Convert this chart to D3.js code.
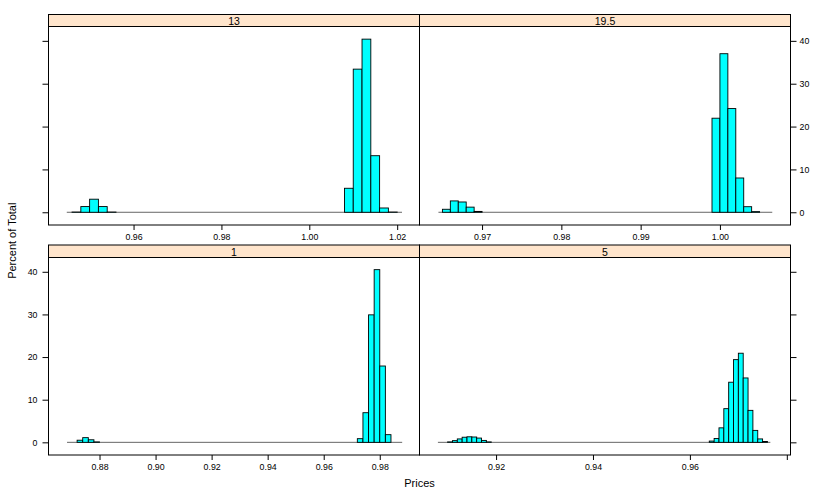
<!DOCTYPE html>
<html><head><meta charset="utf-8">
<script src="https://cdn.jsdelivr.net/npm/d3@7"></script>
<style>body{margin:0;background:#fff}svg{display:block}</style>
</head><body><svg id="c" width="830" height="498"></svg>
<script>
// ---------- data ----------
const yTicks = [0, 10, 20, 30, 40];
const ylim = [-2.97, 43.35];

// panel "13" (top-left)
const xlim13 = [0.94064, 1.02508];
const xTicks13 = [0.96, 0.98, 1.00, 1.02];
const binWidth13 = 0.002;
const binStart13 = [0.946, 0.948, 0.950, 0.952, 0.954, 1.008, 1.010, 1.012, 1.014, 1.016, 1.018];
const pct13 = [0.05, 1.33, 3.05, 1.33, 0.05, 5.6, 33.4, 40.4, 13.2, 1.0, 0.05];
const base13 = [0.9448, 1.0211];

// panel "19.5" (top-right)
const xlim195 = [0.96211, 1.0089];
const xTicks195 = [0.97, 0.98, 0.99, 1.00];
const binWidth195 = 0.001;
const binStart195 = [0.965, 0.966, 0.967, 0.968, 0.969, 0.999, 1.000, 1.001, 1.002, 1.003, 1.004];
const pct195 = [0.7, 2.65, 2.4, 1.2, 0.2, 21.95, 37.0, 24.2, 8.0, 1.3, 0.15];
const base195 = [0.9645, 1.0066];

// panel "1" (bottom-left)
const xlim1 = [0.86179, 0.99418];
const xTicks1 = [0.88, 0.90, 0.92, 0.94, 0.96, 0.98];
const binWidth1 = 0.002;
const binStart1 = [0.872, 0.874, 0.876, 0.878, 0.972, 0.974, 0.976, 0.978, 0.980, 0.982];
const pct1 = [0.5, 1.1, 0.6, 0.1, 0.86, 6.95, 29.9, 40.5, 17.9, 1.8];
const base1 = [0.8684, 0.988];

// panel "5" (bottom-right)
const xlim5 = [0.9042, 0.98076];
const xTicks5 = [0.92, 0.94, 0.96, 0.98];
const xTickLabels5 = ["0.92", "0.94", "0.96", ""];
const binWidth5 = 0.001;
const binStart5 = [0.910, 0.911, 0.912, 0.913, 0.914, 0.915, 0.916, 0.917, 0.918,
                   0.964, 0.965, 0.966, 0.967, 0.968, 0.969, 0.970, 0.971, 0.972, 0.973, 0.974, 0.975];
const pct5 = [0.1, 0.4, 0.8, 1.2, 1.3, 1.25, 1.0, 0.45, 0.1,
              0.3, 0.9, 3.4, 7.9, 14.1, 19.4, 20.9, 15.1, 7.5, 2.8, 0.8, 0.2];
const base5 = [0.908, 0.9766];

const xLabel = "Prices";
const yLabel = "Percent of Total";

// ---------- layout ----------
const FONT = "'Liberation Sans', Arial, Helvetica, sans-serif";
const colX = [48.5, 419.5, 790.5];
const rows = [
  {stripTop: 14.5, top: 26.5, bottom: 225},
  {stripTop: 245, top: 257.5, bottom: 455}
];

const panels = [
  {label: "13",   col: 0, row: 0, xlim: xlim13,  ticks: xTicks13,  tickLabels: xTicks13.map(d3.format(".2f")),  bw: binWidth13,  bins: binStart13,  pct: pct13,  base: base13,  yAxis: "left",  yLabels: false},
  {label: "19.5", col: 1, row: 0, xlim: xlim195, ticks: xTicks195, tickLabels: xTicks195.map(d3.format(".2f")), bw: binWidth195, bins: binStart195, pct: pct195, base: base195, yAxis: "right", yLabels: true},
  {label: "1",    col: 0, row: 1, xlim: xlim1,   ticks: xTicks1,   tickLabels: xTicks1.map(d3.format(".2f")),   bw: binWidth1,   bins: binStart1,   pct: pct1,   base: base1,   yAxis: "left",  yLabels: true},
  {label: "5",    col: 1, row: 1, xlim: xlim5,   ticks: xTicks5,   tickLabels: xTickLabels5, bw: binWidth5,   bins: binStart5,   pct: pct5,   base: base5,   yAxis: "right", yLabels: false}
];

const svg = d3.select("#c");

panels.forEach(p => {
  const x0 = colX[p.col], x1 = colX[p.col + 1];
  const r = rows[p.row];
  const xs = d3.scaleLinear().domain(p.xlim).range([x0, x1]);
  const ys = d3.scaleLinear().domain(ylim).range([r.bottom, r.top]);
  const g = svg.append("g");

  // clip
  const cid = "clip" + p.col + p.row;
  svg.append("clipPath").attr("id", cid).append("rect")
    .attr("x", x0).attr("y", r.top).attr("width", x1 - x0).attr("height", r.bottom - r.top);
  const plot = g.append("g").attr("clip-path", `url(#${cid})`);

  // baseline (zero-height bins)
  plot.append("line")
    .attr("x1", xs(p.base[0])).attr("x2", xs(p.base[1]))
    .attr("y1", ys(0)).attr("y2", ys(0))
    .attr("stroke", "#666").attr("stroke-width", 1);

  // bars
  const data = p.bins.map((b, i) => ({b, v: p.pct[i]}));
  plot.selectAll("rect.bar").data(data).enter().append("rect")
    .attr("class", "bar")
    .attr("x", d => xs(d.b))
    .attr("width", d => xs(d.b + p.bw) - xs(d.b))
    .attr("y", d => ys(d.v))
    .attr("height", d => ys(0) - ys(d.v))
    .attr("fill", "#00ffff").attr("stroke", "#000").attr("stroke-width", 0.9);

  // panel border
  g.append("rect").attr("x", x0).attr("y", r.top).attr("width", x1 - x0).attr("height", r.bottom - r.top)
    .attr("fill", "none").attr("stroke", "#000").attr("stroke-width", 1);

  // strip
  g.append("rect").attr("x", x0).attr("y", r.stripTop).attr("width", x1 - x0).attr("height", r.top - r.stripTop)
    .attr("fill", "#ffe5cc").attr("stroke", "#000").attr("stroke-width", 1);
  g.append("text").attr("x", (x0 + x1) / 2).attr("y", (r.stripTop + r.top) / 2 + 0.5)
    .attr("text-anchor", "middle").attr("dominant-baseline", "central")
    .attr("font-family", FONT).attr("font-size", 10.5).text(p.label);

  // x axis
  const xa = d3.axisBottom(xs).tickValues(p.ticks).tickSize(5).tickPadding(4)
    .tickFormat((d, i) => p.tickLabels[i]);
  const gx = g.append("g").attr("transform", `translate(0,${r.bottom})`).call(xa);
  gx.select(".domain").remove();
  gx.selectAll("text").attr("font-family", FONT).attr("font-size", 8.8).attr("fill", "#000");
  gx.selectAll("line").attr("stroke", "#000");

  // y axis
  let ya, tx;
  if (p.yAxis === "left") { ya = d3.axisLeft(ys).tickPadding(5); tx = x0; }
  else { ya = d3.axisRight(ys).tickPadding(3); tx = x1; }
  ya.tickValues(yTicks).tickSize(6).tickFormat(p.yLabels ? d3.format("d") : () => "");
  const gy = g.append("g").attr("transform", `translate(${tx},0)`).call(ya);
  gy.select(".domain").remove();
  gy.selectAll("text").attr("font-family", FONT).attr("font-size", 8.8).attr("fill", "#000");
  gy.selectAll("line").attr("stroke", "#000");
});

// axis titles
svg.append("text").attr("x", (colX[0] + colX[2]) / 2).attr("y", 487)
  .attr("text-anchor", "middle").attr("font-family", FONT).attr("font-size", 11).text(xLabel);
svg.append("text").attr("transform", `translate(16,${(rows[0].top + rows[1].bottom) / 2}) rotate(-90)`)
  .attr("text-anchor", "middle").attr("font-family", FONT).attr("font-size", 11).text(yLabel);
</script>
</body></html>
